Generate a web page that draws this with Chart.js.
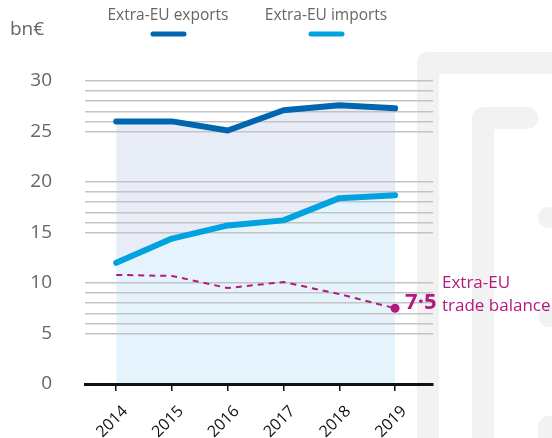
<!DOCTYPE html>
<html>
<head>
<meta charset="utf-8">
<script src="https://cdn.jsdelivr.net/npm/chart.js@4"></script>
<style>
  html, body { margin: 0; padding: 0; background: #fff; }
  #wrap { width: 552px; height: 438px; position: relative; overflow: hidden; }
  #wrap canvas { position: absolute; left: 0; top: 0; }
  .deco { position: absolute; background: #f2f2f2; }
</style>
</head>
<body>
<div id="wrap">
  <!-- grey bracket shapes behind the chart -->
  <div class="deco" style="left:417px;top:52px;width:160px;height:22px;border-top-left-radius:11px"></div>
  <div class="deco" style="left:417px;top:52px;width:22px;height:400px;border-top-left-radius:11px"></div>
  <div class="deco" style="left:472px;top:107px;width:66px;height:22px;border-radius:11px 11px 11px 0"></div>
  <div class="deco" style="left:472px;top:118px;width:22px;height:330px"></div>
  <div class="deco" style="left:538px;top:207px;width:40px;height:21px;border-radius:10.5px"></div>
  <div class="deco" style="left:538px;top:305px;width:40px;height:22px;border-radius:11px"></div>
  <div class="deco" style="left:538px;top:416px;width:40px;height:40px;border-radius:11px"></div>
  <canvas id="tradeChart" width="552" height="438"></canvas>
</div>
<script>
// values (bn€)
const years = [2014, 2015, 2016, 2017, 2018, 2019];
const exportsEU = [26.0, 26.0, 25.1, 27.1, 27.6, 27.3];
const importsEU = [12.0, 14.4, 15.7, 16.2, 18.4, 18.7];
const tradeBalance = [10.8, 10.7, 9.5, 10.1, 8.9, 7.5];
const yTicks = [0, 5, 10, 15, 20, 25, 30];

const FONT = "'Open Sans', sans-serif";
const MAGENTA = "#b3197f";
const DARK_BLUE = "#0066b0";
const LIGHT_BLUE = "#00a2e0";

const toPoints = (vals) => years.map((y, i) => ({ x: y, y: vals[i] }));

// legend, unit and trade balance label
const labels = {
    id: 'labels',
    afterDraw: (chart) => {
        const c = chart.ctx;
        c.save();
        c.fillStyle = "#666";
        c.textBaseline = "middle";
        c.font = "19px " + FONT;
        c.textAlign = "left";
        c.fillText("bn€", 10, 30);

        c.font = "15.5px " + FONT;
        c.textAlign = "center";
        c.fillText("Extra-EU exports", 168, 16);
        c.fillText("Extra-EU imports", 326, 16);
        c.lineCap = "round";
        c.lineWidth = 5;
        c.strokeStyle = DARK_BLUE;
        c.beginPath(); c.moveTo(153, 34); c.lineTo(184, 34); c.stroke();
        c.strokeStyle = LIGHT_BLUE;
        c.beginPath(); c.moveTo(311, 34); c.lineTo(342, 34); c.stroke();

        const y = chart.scales.y;
        const x = chart.scales.x;
        const last = tradeBalance[tradeBalance.length - 1];
        c.fillStyle = MAGENTA;
        c.font = "bold 22px " + FONT;
        c.textAlign = "left";
        c.fillText(String(last).replace(".", "·"), x.getPixelForValue(years[years.length - 1]) + 10, y.getPixelForValue(last) - 6);
        c.font = "17px " + FONT;
        c.fillText("Extra-EU", 442, 283);
        c.fillText("trade balance", 442, 306);
        c.restore();
    }
};

new Chart(document.getElementById("tradeChart"), {
    type: 'line',
    data: {
        datasets: [{
            label: "Extra-EU trade balance",
            data: toPoints(tradeBalance),
            borderColor: MAGENTA,
            borderWidth: 2,
            borderDash: [6, 5],
            pointRadius: [0, 0, 0, 0, 0, 4.5],
            pointBackgroundColor: MAGENTA,
            pointBorderWidth: 0,
            fill: false,
            tension: 0
        }, {
            label: "Extra-EU exports",
            data: toPoints(exportsEU),
            borderColor: DARK_BLUE,
            borderWidth: 6,
            borderCapStyle: 'round',
            borderJoinStyle: 'round',
            pointRadius: 0,
            fill: { target: 2 },
            backgroundColor: "#e8ecf7",
            tension: 0
        }, {
            label: "Extra-EU imports",
            data: toPoints(importsEU),
            borderColor: LIGHT_BLUE,
            borderWidth: 6,
            borderCapStyle: 'round',
            borderJoinStyle: 'round',
            pointRadius: 0,
            fill: 'origin',
            backgroundColor: "#e5f4fc",
            tension: 0
        }]
    },
    options: {
        responsive: false,
        animation: false,
        events: [],
        layout: { padding: { top: 81, right: 119, left: 0, bottom: 0 } },
        plugins: {
            legend: { display: false },
            tooltip: { enabled: false },
            filler: { drawTime: 'beforeDraw' }
        },
        scales: {
            x: {
                type: 'linear',
                min: 2013.44,
                max: 2019.68,
                afterFit: (s) => { s.height = 54; },
                border: { display: true, color: "#111", width: 3 },
                grid: { drawOnChartArea: false, drawTicks: true, tickLength: 7, color: "#111", lineWidth: 1.5 },
                ticks: {
                    stepSize: 1,
                    includeBounds: false,
                    minRotation: 45,
                    maxRotation: 45,
                    padding: 11,
                    labelOffset: 9,
                    color: "#111",
                    font: { family: FONT, size: 16 },
                    callback: (v) => String(v)
                }
            },
            y: {
                min: 0,
                max: 30,
                afterFit: (s) => { s.width = 85; },
                border: { display: false },
                grid: {
                    drawTicks: false,
                    lineWidth: 1.5,
                    color: (ctx) => {
                        const v = ctx.tick.value;
                        if (v === 0) return 'rgba(0,0,0,0)';
                        const m = v % 10;
                        return (m === 0 || m >= 5) ? "#c4c4c4" : 'rgba(0,0,0,0)';
                    }
                },
                ticks: {
                    stepSize: 1,
                    autoSkip: false,
                    padding: 33,
                    color: "#666",
                    font: { family: FONT, size: 19 },
                    callback: (v) => yTicks.includes(v) ? String(v) : ''
                }
            }
        }
    },
    plugins: [labels]
});
</script>
</body>
</html>
